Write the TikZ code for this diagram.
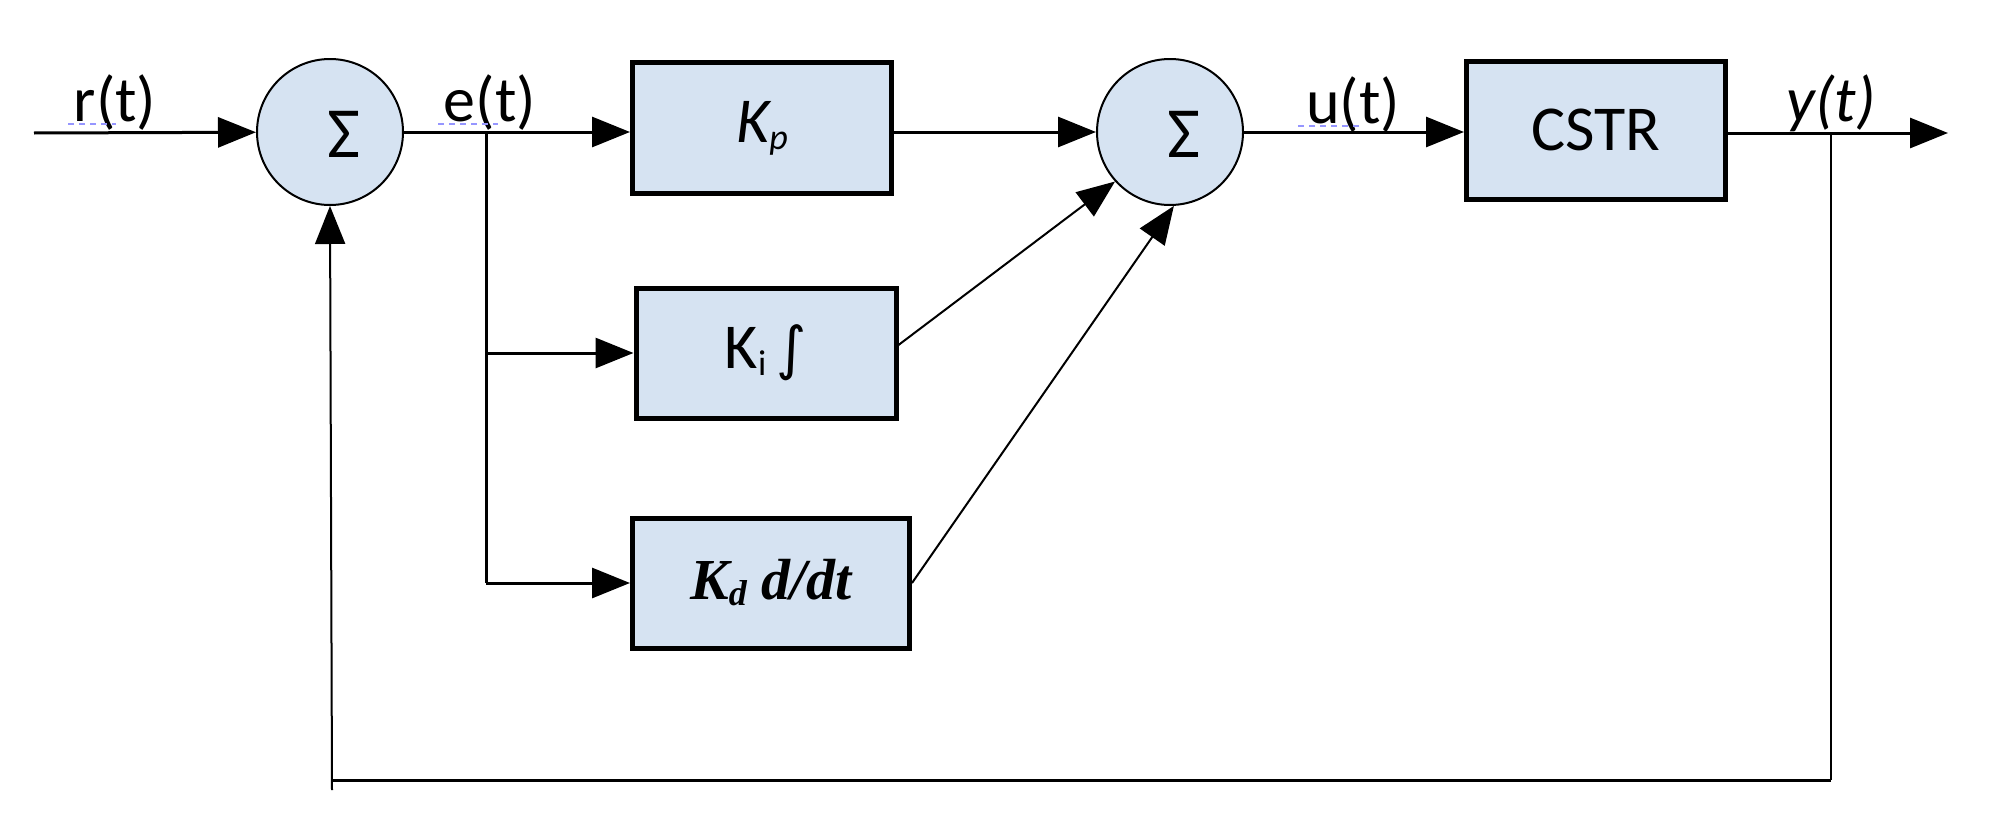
\documentclass[tikz,border=0pt]{standalone}
\usepackage{fontspec}
\setmainfont{Carlito}
\newfontfamily\tnr{Liberation Serif}
\newfontfamily\dejavu{DejaVu Sans}
\usetikzlibrary{arrows.meta}
\definecolor{boxfill}{RGB}{214,227,242}
\definecolor{squig}{RGB}{150,150,255}
\newcommand{\mysub}[1]{\raisebox{-7pt}{\fontsize{36}{40}\selectfont #1}}
\begin{document}
\begin{tikzpicture}[x=1pt,y=-1pt,
  big/.style={font=\fontsize{64}{72}\selectfont},
  block/.style={draw=black, line width=5pt, fill=boxfill, inner sep=0pt, big},
  summer/.style={circle, draw=black, line width=2pt, fill=boxfill, minimum size=146pt, inner sep=0pt},
  sig/.style={inner sep=0pt, font=\fontsize{72}{80}\selectfont},
  conn/.style={line width=3pt},
  thinconn/.style={line width=2pt},
  arr/.style={-{Triangle[length=38pt,width=30pt]}},
  lbl/.style={anchor=base, inner sep=0pt, big},
  squiggle/.style={squig, line width=2pt, dash pattern=on 6pt off 5pt}
]
\useasboundingbox (0,0) rectangle (1990,819);

% nodes
\coordinate (in) at (34,133);
\node[summer] (s1) at (330,132) {};
\node[sig] (s1sym) at (344,134) {Σ};
\node[block, minimum width=259pt, minimum height=131pt] (kp) at (762,128) {\itshape K\mysub{p}};
\node[block, minimum width=260pt, minimum height=130pt] (ki) at (766,353) {K\mysub{i}\,{\dejavu\fontsize{58}{64}\selectfont ∫}};
\node[block, minimum width=277pt, minimum height=130pt] (kd) at (771,583) {\tnr\bfseries\itshape\fontsize{58}{68}\selectfont K{\fontsize{36}{40}\selectfont\raisebox{-6pt}{d}} d/dt};
\node[summer] (s2) at (1170,132) {};
\node[sig] (s2sym) at (1184,134) {Σ};
\node[block, minimum width=259pt, minimum height=138pt] (cstr) at (1596,130) {CSTR};
\coordinate (out) at (1948,133);

\coordinate (ebr) at (486,133);
\coordinate (ybr) at (1831,133);
\coordinate (fb1) at (1831,780);
\coordinate (fb2) at (332,780);
\coordinate (fb3) at (332,790);

% labels
\node[lbl] (rl) at (115,121) {r(t)};
\node[lbl] (el) at (490,121) {e(t)};
\node[lbl] (ul) at (1353,123) {u(t)};
\node[lbl] (yl) at (1831,121) {\itshape y(t)};
\draw[squiggle] (68,124) -- (116,124);
\draw[squiggle] (438,124) -- (498,124);
\draw[squiggle] (1298,126) -- (1362,126);

% connectors
\draw[conn,arr] (in) -- (s1);
\draw[conn,arr] (s1) -- (s1 -| kp.west);
\draw[conn] (ebr) -- (ebr |- kd.west);
\draw[conn,arr] (ebr |- ki.west) -- (ki.west);
\draw[conn,arr] (ebr |- kd.west) -- (kd.west);
\draw[conn,arr] (kp.east |- s2) -- (s2);
\draw[thinconn,arr] ([yshift=8pt]ki.east) -- (s2.222);
\draw[thinconn,arr] (kd.east) -- (s2.273);
\draw[conn,arr] (s2) -- (s2 -| cstr.west);
\draw[conn,arr] (cstr.east |- out) -- (out);
\draw[thinconn] (ybr) -- (fb1);
\draw[conn] (fb1) -- (fb2);
\draw[thinconn,arr] (fb3) -- (s1.south);
\end{tikzpicture}
\end{document}
